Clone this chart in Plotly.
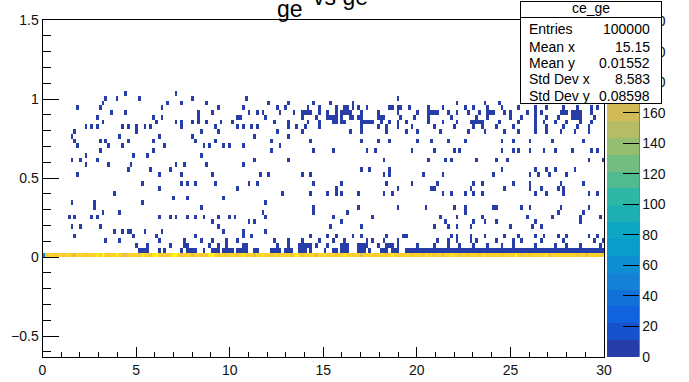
import numpy as np
import plotly.graph_objects as go

# ---------------- data ----------------
x_lo, x_hi, nx = 0.0, 30.0, 200          # x binning of the TH2
y_lo, y_hi, ny = -0.63, 1.5, 71          # y binning of the TH2
z_top = 221                              # maximum bin content

# bin contents of the y = 0 row (x bins 0..199)
row00 = [
 62, 181, 188, 193, 185, 191, 197, 182, 190, 194, 187, 176, 192, 189, 196, 184, 191, 193, 188, 200,
 195, 212, 189, 183, 191, 197, 219, 192, 186, 174, 191, 195, 188, 193, 185, 199, 190, 192, 184, 207,
 216, 193, 187, 196, 178, 190, 211, 221, 191, 186, 194, 188, 198, 172, 192, 195, 187, 191, 183, 200,
 214, 193, 186, 195, 190, 179, 197, 192, 194, 187, 191, 200, 185, 193, 189, 170, 196, 191, 206, 188,
 192, 186, 195, 190, 183, 198, 191, 194, 187, 192, 210, 189, 181, 196, 191, 193, 188, 175, 195, 191,
 199, 187, 192, 190, 184, 196, 191, 207, 188, 193, 186, 191, 197, 173, 192, 195, 189, 191, 185, 198,
 191, 194, 187, 192, 204, 189, 183, 195, 191, 193, 188, 177, 196, 192, 190, 187, 199, 191, 194, 186,
 193, 189, 171, 196, 191, 208, 188, 192, 186, 195, 190, 180, 197, 191, 194, 187, 192, 200, 185, 193,
 189, 191, 196, 184, 192, 195, 188, 191, 213, 193, 186, 194, 190, 178, 197, 192, 193, 188, 191, 199,
 185, 193, 189, 192, 196, 191, 188, 194, 190, 192, 187, 195, 191, 176, 193, 198, 189, 192, 186, 194]

# x-bin indices of the sparse (low count) cells, one list per y bin above 0
row01 = [34, 35, 36, 37, 41, 43, 49, 51, 52, 53, 54, 57, 60, 61, 62, 64, 65, 66, 67, 69, 70, 71, 72,
         75, 76, 81, 82, 83, 84, 86, 87, 88, 91, 92, 93, 95, 100, 103, 104, 106, 107, 108, 112, 113,
         114, 116, 120, 121, 122, 124, 125, 126] + list(range(129, 200))
row02 = [33, 37, 45, 50, 51, 59, 62, 65, 71, 72, 83, 87, 91, 92, 93, 94, 95, 97, 101, 106, 107, 108,
         112, 113, 114, 115, 119, 122, 123, 124, 126, 133, 139, 144, 148, 153, 158, 163, 167, 175,
         182, 186, 191, 198]
row03 = [22, 27, 41, 50, 56, 60, 65, 69, 82, 87, 92, 98, 103, 107, 115, 117, 121, 126, 140, 144, 147,
         152, 154, 161, 167, 170, 177, 185, 196, 199]
row04 = [11, 32, 40, 54, 71, 74, 95, 101, 104, 110, 113, 122, 128, 129, 145, 147, 152, 157, 164, 169,
         175, 178, 183, 186, 194, 197]
row05 = [25, 28, 30, 31, 36, 42, 64, 71, 79]
row06 = [10, 13, 20, 62, 102, 113, 139, 144, 147, 152, 166, 174, 177]
row07 = [60, 73, 75, 106, 143, 153, 157, 161, 175, 191]
row08 = [9, 11, 17, 19, 41, 45, 47, 51, 54, 57, 62, 66, 68, 79, 103, 117, 141, 147, 156, 172, 181,
         191, 198]
row09 = [21, 27, 78, 96, 108, 150, 183, 192]
row10 = [18, 56, 96, 112, 126, 136, 146, 150, 160, 161, 170, 173, 184, 194]
row11 = [10, 18, 35, 79]
row12 = [46, 51, 64]
row13 = [25, 85, 95, 101, 104, 106, 112, 121, 124, 142, 145, 150, 153, 156, 175, 179, 185, 194, 197]
row14 = [41, 69, 104, 126, 138, 139, 152, 164, 173, 177, 183, 185]
row15 = [35, 49, 51, 54, 61, 73, 76, 96, 106, 122, 131, 140, 153, 156, 167, 173, 184, 192]
row16 = []
row17 = [12, 41, 49, 60, 77, 80, 92, 95, 121, 123, 135, 142, 160, 173, 176, 180, 186]
row18 = [30, 38, 45, 113, 116, 123, 163, 175, 179, 182, 189]
row19 = [15, 23, 31, 47, 50, 58, 71]
row20 = [10, 13, 19, 75, 87, 121, 137, 143, 145, 154, 161, 165, 194, 199]
row21 = [15, 32, 37, 56]
row22 = [20, 39, 81, 96, 103, 115, 118, 131, 139, 146, 148, 163, 167, 169, 173, 178, 182, 188, 195,
         197]
row23 = [12, 23, 28, 43, 57, 59, 64, 66, 71, 84]
row24 = [11, 20, 22, 30, 39, 54, 61, 81, 95, 113, 119, 123, 133, 138, 144, 150, 163, 167, 173, 181,
         192]
row25 = [10, 27, 41, 53, 75, 87]
row26 = [11, 33, 56, 62, 83, 92, 109, 113, 122, 129, 133, 141, 151, 157, 164, 169, 175, 179, 184, 189,
         194]
row27 = [15, 17, 19, 28, 30, 33, 36, 38, 49, 61, 69, 71, 74, 76, 87, 90, 93, 98, 113, 119, 122, 126,
         131, 139, 146, 153, 156, 161, 167, 175, 179, 185, 190, 194]
row28 = [21, 40, 47, 49, 53, 55, 58, 63, 67, 82, 87, 94, 98, 103, 104, 106, 107, 113, 114, 115, 116,
         117, 120, 123, 126, 129, 137, 142, 147, 152, 153, 154, 155, 156, 162, 169, 175, 178, 182,
         186, 191, 195]
row29 = [19, 39, 42, 55, 69, 70, 79, 92, 97, 101, 102, 103, 104, 106, 109, 110, 112, 113, 119, 120,
         121, 127, 132, 137, 145, 154, 158, 166, 170, 175, 179, 183, 188, 189, 190, 191, 196]
row30 = [24, 29, 55, 60, 73, 76, 78, 84, 89, 92, 93, 94, 95, 98, 101, 104, 106, 107, 108, 109, 113,
         119, 126, 133, 137, 138, 139, 140, 144, 147, 151, 155, 158, 159, 160, 164, 166, 172, 175,
         177, 184, 185, 186, 188, 189, 190, 191, 195]
row31 = [12, 20, 42, 62, 71, 83, 86, 94, 98, 104, 107, 108, 110, 112, 115, 123, 124, 126, 127, 130,
         137, 142, 150, 153, 158, 163, 169, 175, 179, 185, 190, 195, 197]
row32 = [21, 44, 49, 58, 80, 87, 96, 102, 110, 147, 157, 162]
row33 = [22, 26, 34, 53, 72, 126]
row34 = [29, 47]

stats_labels = ["Entries", "Mean x", "Mean y", "Std Dev x", "Std Dev y"]
stats_values = ["100000", "15.15", "0.01552", "8.583", "0.08598"]
hist_name = "ce_ge"

# ---------------- build the 2D histogram ----------------
dx = (x_hi - x_lo) / nx
dy = (y_hi - y_lo) / ny
xc = x_lo + dx * (np.arange(nx) + 0.5)
yc = y_lo + dy * (np.arange(ny) + 0.5)
z = np.full((ny, nx), np.nan)
j0 = int(round((0.0 - y_lo) / dy))
z[j0, :] = row00
sparse = [row01, row02, row03, row04, row05, row06, row07, row08, row09, row10, row11, row12,
          row13, row14, row15, row16, row17, row18, row19, row20, row21, row22, row23, row24,
          row25, row26, row27, row28, row29, row30, row31, row32, row33, row34]
for k, cols in enumerate(sparse):
    for c in cols:
        z[j0 + 1 + k, c] = 2 if k == 0 else 1

# ---------------- ROOT kBird palette, 20 contour levels ----------------
st = [0.0, 0.125, 0.25, 0.375, 0.5, 0.625, 0.75, 0.875, 1.0]
rr = [0.2082, 0.0592, 0.0780, 0.0232, 0.1802, 0.5301, 0.8186, 0.9956, 0.9764]
gg = [0.1664, 0.3599, 0.5041, 0.6419, 0.7178, 0.7492, 0.7328, 0.7862, 0.9832]
bb = [0.5293, 0.8684, 0.8385, 0.7914, 0.6425, 0.4662, 0.3499, 0.1968, 0.0539]
ncol, ncont = 255, 20
tt = np.arange(ncol) / (ncol - 1)
pal = np.stack([np.interp(tt, st, rr), np.interp(tt, st, gg), np.interp(tt, st, bb)], axis=1)
cscale = []
for i in range(ncont):
    idx = min(int((i + 0.99) * ncol / ncont), ncol - 1)
    r, g, b = (pal[idx] * 255).round().astype(int)
    col = f"rgb({r},{g},{b})"
    cscale.append([i / ncont, col])
    cscale.append([(i + 1) / ncont, col])

# ---------------- figure ----------------
W, H = 689, 382
FONT = "Liberation Sans, Arial, Helvetica, sans-serif"
px_l, px_r, px_t, px_b = 42.5, 604.0, 20.0, 356.7
dom_x = [px_l / W, px_r / W]
dom_y = [1 - px_b / H, 1 - px_t / H]

fig = go.Figure()
fig.add_trace(go.Heatmap(
    x=xc, y=yc, z=z, zmin=0, zmax=z_top, colorscale=cscale, zsmooth=False,
    hoverinfo="skip",
    colorbar=dict(
        x=607 / W, xanchor="left", y=dom_y[0], yanchor="bottom",
        len=dom_y[1] - dom_y[0], lenmode="fraction",
        thickness=32, thicknessmode="pixels", xpad=0, ypad=0,
        outlinewidth=0, ticks="inside", ticklen=16, tickwidth=1, tickcolor="black",
        tick0=0, dtick=20, tickfont=dict(family=FONT, size=14, color="#111"),
    ),
))

axis_common = dict(showgrid=False, zeroline=False, showline=True, linecolor="black",
                   linewidth=1, mirror=True, ticks="inside", tickcolor="black", tickwidth=1,
                   tickfont=dict(family=FONT, size=14, color="#111"))
fig.update_xaxes(domain=dom_x, range=[x_lo, x_hi], tickmode="linear", tick0=0, dtick=5,
                 ticklen=10, minor=dict(ticks="inside", ticklen=5, dtick=1, tickcolor="black",
                                        showgrid=False), **axis_common)
fig.update_yaxes(domain=dom_y, range=[y_lo, y_hi], tickmode="linear", tick0=0, dtick=0.5,
                 ticklen=16, minor=dict(ticks="inside", ticklen=8, dtick=0.1, tickcolor="black",
                                        showgrid=False), **axis_common)

# colour-bar axis line (right edge)
fig.add_shape(type="line", xref="paper", yref="paper", x0=639 / W, x1=639 / W,
              y0=dom_y[0], y1=dom_y[1], line=dict(color="black", width=1))

ann = []
# title "ge" with raised "vs ge"
ann.append(dict(text="ge", x=290 / W, y=1 - 23.5 / H, xanchor="center", yanchor="bottom",
                font=dict(family=FONT, size=23, color="black")))
ann.append(dict(text="vs ge", x=311 / W, y=1 - 12 / H, xanchor="left", yanchor="bottom",
                font=dict(family=FONT, size=23, color="black")))
# stats box background (drawn above colour bar)
bx0, bx1, by0, by1, hy = 520, 661, 1, 103, 17
ann.append(dict(text=" ", x=bx0 / W, y=1 - by0 / H, xanchor="left", yanchor="top",
                width=bx1 - bx0 - 1, height=by1 - by0 - 1, bgcolor="white",
                bordercolor="black", borderwidth=1, borderpad=0))
ann.append(dict(text=" ", x=bx0 / W, y=1 - by0 / H, xanchor="left", yanchor="top",
                width=bx1 - bx0 - 1, height=hy - by0 - 1, bgcolor="white",
                bordercolor="black", borderwidth=1, borderpad=0))
ann.append(dict(text=hist_name, x=(bx0 + bx1) / 2 / W, y=1 - 8.0 / H, xanchor="center",
                yanchor="middle", font=dict(family=FONT, size=14, color="black")))
row_y = [29.5, 46.5, 63, 79.5, 96]
for lab, val, yy in zip(stats_labels, stats_values, row_y):
    ann.append(dict(text=lab, x=527 / W, y=1 - yy / H, xanchor="left", yanchor="middle",
                    font=dict(family=FONT, size=14, color="black")))
    ann.append(dict(text=val, x=652 / W, y=1 - yy / H, xanchor="right", yanchor="middle",
                    font=dict(family=FONT, size=14, color="black")))
for a in ann:
    a.update(xref="paper", yref="paper", showarrow=False)
fig.update_layout(annotations=ann)

fig.update_layout(width=W, height=H,
                  margin=dict(l=0, r=0, t=0, b=0, pad=0, autoexpand=False),
                  paper_bgcolor="white", plot_bgcolor="white", showlegend=False)
fig.write_html("out.html")
